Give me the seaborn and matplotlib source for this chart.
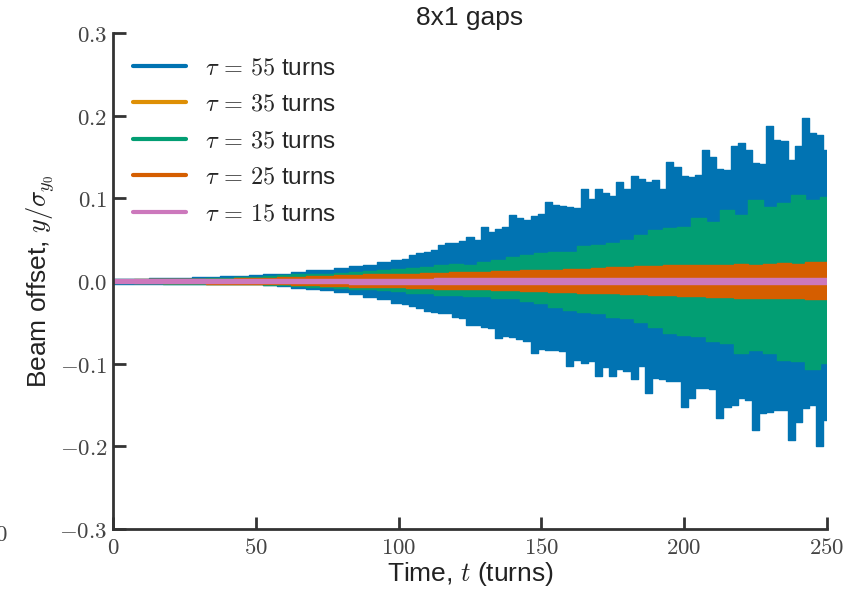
import numpy as np
import pandas as pd
import matplotlib
matplotlib.use("Agg")
import matplotlib.pyplot as plt
from matplotlib.lines import Line2D
from matplotlib.ticker import FuncFormatter
import seaborn as sns

# Time samples (turns): 5-turn spacing, and 2.5-turn spacing after turn 100
turns_coarse = np.arange(0, 251, 5)
turns_fine = np.concatenate([np.arange(0, 100, 5), np.arange(100, 250.1, 2.5)])

# Upper / lower envelopes of the vertical beam offset, y / sigma_y0
tau55_upper = [0.003, 0.003, 0.003, 0.004, 0.004, 0.004, 0.005, 0.005, 0.006, 0.006,
               0.007, 0.008, 0.009, 0.011, 0.013, 0.014, 0.016, 0.018, 0.020, 0.023,
               0.026, 0.027, 0.031, 0.034, 0.035, 0.038, 0.044, 0.046, 0.046, 0.049,
               0.053, 0.050, 0.065, 0.060, 0.063, 0.066, 0.080, 0.076, 0.074, 0.079,
               0.081, 0.096, 0.092, 0.091, 0.090, 0.089, 0.112, 0.099, 0.111, 0.107,
               0.103, 0.120, 0.112, 0.127, 0.123, 0.120, 0.122, 0.112, 0.144, 0.138,
               0.127, 0.126, 0.128, 0.159, 0.150, 0.136, 0.134, 0.163, 0.167, 0.159,
               0.143, 0.142, 0.188, 0.171, 0.169, 0.146, 0.163, 0.197, 0.179, 0.177,
               0.159]
tau55_lower = [-0.003, -0.003, -0.003, -0.003, -0.003, -0.004, -0.004, -0.004, -0.004, -0.004,
               -0.004, -0.005, -0.006, -0.008, -0.009, -0.011, -0.013, -0.016, -0.019, -0.022,
               -0.027, -0.028, -0.030, -0.033, -0.036, -0.038, -0.039, -0.039, -0.043, -0.045,
               -0.053, -0.053, -0.055, -0.057, -0.069, -0.067, -0.068, -0.070, -0.073, -0.087,
               -0.082, -0.083, -0.083, -0.085, -0.103, -0.095, -0.099, -0.097, -0.115, -0.104,
               -0.115, -0.107, -0.109, -0.119, -0.103, -0.136, -0.117, -0.119, -0.121, -0.121,
               -0.152, -0.142, -0.129, -0.129, -0.131, -0.166, -0.153, -0.150, -0.142, -0.144,
               -0.180, -0.160, -0.158, -0.156, -0.156, -0.192, -0.171, -0.154, -0.150, -0.200,
               -0.168]

tau35a_upper = [0.001, 0.001, 0.002, 0.002, 0.002, 0.002, 0.003, 0.003, 0.003, 0.004,
                0.004, 0.005, 0.005, 0.006, 0.006, 0.007, 0.008, 0.009, 0.010, 0.010,
                0.012, 0.013, 0.014, 0.015, 0.016, 0.016, 0.018, 0.020, 0.023, 0.025,
                0.027, 0.028, 0.029, 0.033, 0.035, 0.037, 0.040, 0.044, 0.049, 0.051,
                0.053, 0.060, 0.058, 0.068, 0.064, 0.078, 0.072, 0.075, 0.083, 0.078,
                0.081]
tau35a_lower = [-0.001, -0.001, -0.002, -0.002, -0.002, -0.002, -0.002, -0.003, -0.003, -0.003,
                -0.003, -0.004, -0.004, -0.005, -0.005, -0.006, -0.006, -0.007, -0.008, -0.009,
                -0.010, -0.011, -0.012, -0.013, -0.013, -0.015, -0.015, -0.016, -0.017, -0.020,
                -0.021, -0.025, -0.028, -0.030, -0.031, -0.034, -0.036, -0.039, -0.044, -0.050,
                -0.052, -0.054, -0.058, -0.060, -0.070, -0.066, -0.070, -0.076, -0.078, -0.085,
                -0.079]

tau35b_upper = [0.002, 0.002, 0.002, 0.003, 0.003, 0.003, 0.003, 0.004, 0.004, 0.005,
                0.005, 0.006, 0.007, 0.008, 0.008, 0.009, 0.010, 0.011, 0.012, 0.013,
                0.015, 0.016, 0.017, 0.019, 0.021, 0.019, 0.023, 0.025, 0.029, 0.031,
                0.034, 0.035, 0.035, 0.042, 0.044, 0.046, 0.050, 0.056, 0.062, 0.064,
                0.066, 0.076, 0.072, 0.086, 0.080, 0.098, 0.090, 0.094, 0.104, 0.098,
                0.102]
tau35b_lower = [-0.002, -0.002, -0.002, -0.002, -0.003, -0.003, -0.003, -0.003, -0.004, -0.004,
                -0.004, -0.005, -0.005, -0.006, -0.007, -0.007, -0.008, -0.009, -0.010, -0.011,
                -0.0125, -0.0145, -0.0145, -0.0165, -0.0165, -0.0185, -0.0185, -0.0206, -0.0206, -0.0246,
                -0.0266, -0.031, -0.035, -0.037, -0.039, -0.043, -0.045, -0.049, -0.055, -0.063,
                -0.065, -0.067, -0.073, -0.075, -0.087, -0.083, -0.087, -0.095, -0.097, -0.107,
                -0.099]

tau25_upper = [0.001, 0.001, 0.001, 0.002, 0.002, 0.002, 0.003, 0.003, 0.003, 0.004,
               0.004, 0.004, 0.005, 0.005, 0.006, 0.006, 0.007, 0.007, 0.008, 0.008,
               0.0085, 0.009, 0.0095, 0.010, 0.0105, 0.011, 0.011, 0.012, 0.012, 0.013,
               0.013, 0.014, 0.015, 0.015, 0.016, 0.017, 0.017, 0.018, 0.018, 0.019,
               0.019, 0.020, 0.019, 0.020, 0.021, 0.020, 0.021, 0.022, 0.021, 0.023,
               0.023]
tau25_lower = [-0.001, -0.001, -0.001, -0.001, -0.002, -0.002, -0.002, -0.003, -0.003, -0.003,
               -0.004, -0.004, -0.004, -0.005, -0.005, -0.006, -0.006, -0.007, -0.007, -0.007,
               -0.0075, -0.008, -0.008, -0.009, -0.009, -0.010, -0.010, -0.011, -0.011, -0.012,
               -0.012, -0.013, -0.013, -0.014, -0.015, -0.015, -0.016, -0.016, -0.017, -0.017,
               -0.018, -0.018, -0.019, -0.019, -0.020, -0.020, -0.021, -0.020, -0.021, -0.022,
               -0.022]

tau15_upper = [0.0025, 0.0025, 0.0025, 0.0025, 0.0025, 0.0026, 0.0026, 0.0026, 0.0027, 0.0027,
               0.0027, 0.0028, 0.0028, 0.0028, 0.0029, 0.0029, 0.0029, 0.0030, 0.0030, 0.0030,
               0.0031, 0.0031, 0.0031, 0.0032, 0.0032, 0.0032, 0.0032, 0.0033, 0.0033, 0.0033,
               0.0033, 0.0034, 0.0034, 0.0034, 0.0034, 0.0034, 0.0035, 0.0035, 0.0035, 0.0035,
               0.0035, 0.0035, 0.0035, 0.0035, 0.0035, 0.0035, 0.0035, 0.0035, 0.0035, 0.0035,
               0.0035]
tau15_lower = [-0.0025, -0.0025, -0.0025, -0.0025, -0.0025, -0.0026, -0.0026, -0.0026, -0.0027, -0.0027,
               -0.0027, -0.0028, -0.0028, -0.0028, -0.0029, -0.0029, -0.0029, -0.0030, -0.0030, -0.0030,
               -0.0031, -0.0031, -0.0031, -0.0032, -0.0032, -0.0032, -0.0032, -0.0033, -0.0033, -0.0033,
               -0.0033, -0.0034, -0.0034, -0.0034, -0.0034, -0.0034, -0.0035, -0.0035, -0.0035, -0.0035,
               -0.0035, -0.0035, -0.0035, -0.0035, -0.0035, -0.0035, -0.0035, -0.0035, -0.0035, -0.0035,
               -0.0035]

series_keys = ["tau55", "tau35a", "tau35b", "tau25", "tau15"]
series_labels = [r"$\tau \,=\, 55$ turns", r"$\tau \,=\, 35$ turns", r"$\tau \,=\, 35$ turns",
                 r"$\tau \,=\, 25$ turns", r"$\tau \,=\, 15$ turns"]
envelopes = {
    "tau55": (turns_fine, tau55_upper, tau55_lower),
    "tau35a": (turns_coarse, tau35a_upper, tau35a_lower),
    "tau35b": (turns_coarse, tau35b_upper, tau35b_lower),
    "tau25": (turns_coarse, tau25_upper, tau25_lower),
    "tau15": (turns_coarse, tau15_upper, tau15_lower),
}

x_ticks = [0, 50, 100, 150, 200, 250]
y_ticks = [-0.3, -0.2, -0.1, 0.0, 0.1, 0.2, 0.3]

# Long-form table of envelope edges
rows = []
for key in series_keys:
    grid, up, lo = envelopes[key]
    for t, u, l in zip(grid, up, lo):
        rows.append({"series": key, "edge": "upper", "turn": t, "offset": u})
        rows.append({"series": key, "edge": "lower", "turn": t, "offset": l})
df = pd.DataFrame(rows)

sns.set_theme(style="ticks", palette="colorblind")
plt.rcParams["font.family"] = ["Liberation Sans", "DejaVu Sans"]
plt.rcParams["mathtext.fontset"] = "cm"
colors = sns.color_palette("colorblind", 5)
axis_color = "#333333"

fig = plt.figure(figsize=(8.56, 5.93), dpi=100)
ax = fig.add_axes([0.132, 0.108, 0.834, 0.836])

for i, (key, color) in enumerate(zip(series_keys, colors)):
    grid, up, lo = envelopes[key]
    z = 1 + 0.1 * i
    ax.fill_between(grid, lo, up, step="mid", color=color, linewidth=0, zorder=z)
    sns.lineplot(data=df[df["series"] == key], x="turn", y="offset", units="edge",
                 estimator=None, color=color, linewidth=1.0, drawstyle="steps-mid",
                 ax=ax, legend=False, zorder=z + 0.05)

ax.set_xlim(0, 250)
ax.set_ylim(-0.3, 0.3)
ax.set_xticks(x_ticks)
ax.set_yticks(y_ticks)
ax.xaxis.set_major_formatter(FuncFormatter(lambda v, p: f"${v:.0f}$"))
ax.yaxis.set_major_formatter(FuncFormatter(lambda v, p: f"${v:.1f}$"))
ax.tick_params(direction="in", length=9, width=2, color=axis_color,
               labelsize=16.5, labelcolor="#444444")
ax.tick_params(axis="x", pad=5)
ax.tick_params(axis="y", pad=4)
for side in ["left", "bottom"]:
    ax.spines[side].set_linewidth(2)
    ax.spines[side].set_color(axis_color)
sns.despine(ax=ax)

ax.set_xlabel(r"Time, $t$ (turns)", fontsize=19, color="#222222", labelpad=1)
ax.set_ylabel(r"Beam offset, $y/\sigma_{y_0}$", fontsize=19, color="#222222", labelpad=2)
ax.set_title("8x1 gaps", fontsize=19, color="#222222", pad=6)

handles = [Line2D([], [], color=c, linewidth=3) for c in colors]
ax.legend(handles, series_labels, loc="upper left", bbox_to_anchor=(0.028, 0.952),
          frameon=False, fontsize=17.5, handlelength=2.2, handletextpad=0.75,
          labelspacing=0.6, borderaxespad=0, borderpad=0)

# Partial tick label at the figure's left edge
fig.text(-0.006, 0.098, r"$0$", fontsize=16.5, color="#444444", ha="left", va="center")

fig.savefig("out.png", dpi=100)
